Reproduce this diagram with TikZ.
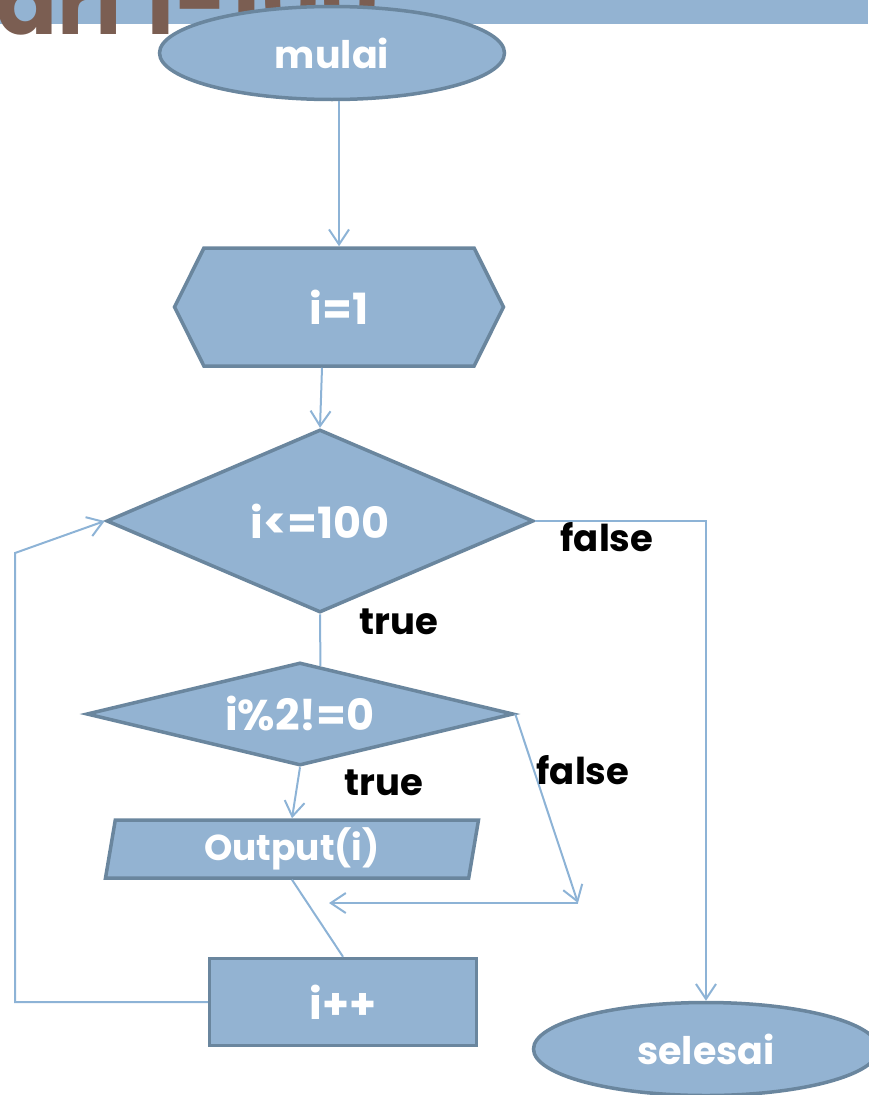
\documentclass[tikz,border=0pt]{standalone}
\usepackage{fontspec}
\setmainfont{Poppins}
\usetikzlibrary{shapes.geometric,shapes.symbols,arrows.meta}
\definecolor{boxfill}{HTML}{93B3D2}
\definecolor{boxline}{HTML}{6A869E}
\definecolor{flowline}{HTML}{8DB3D6}
\definecolor{titlebrown}{HTML}{7B5E52}

\begin{document}
\begin{tikzpicture}[x=1pt,y=-1pt]
  \tikzstyle{box}=[draw=boxline,fill=boxfill,line width=3.5pt,text=white,inner sep=0pt,font=\fontsize{38}{40}\selectfont\bfseries]
  \tikzstyle{bigtext}=[font=\fontsize{43}{45}\selectfont\bfseries]
  \tikzstyle{flow}=[draw=flowline,line width=2pt]
  \tikzstyle{arr}=[flow,-{Straight Barb[length=15pt,width=20pt]}]
  \tikzstyle{lbl}=[inner sep=0pt,font=\fontsize{37}{39}\selectfont\bfseries]
  \useasboundingbox (0,0) rectangle (868,1095);
  % header strip with the cut title
  \fill[boxfill] (0,0) rectangle (868,24);
  \begin{scope}
    \clip (0,0) rectangle (868,35);
    \node[anchor=base west,text=titlebrown,inner sep=0pt,font=\fontsize{90}{92}\selectfont\bfseries] (judul) at (-65,34) {dari 1-100};
  \end{scope}
  % blocks
  \node[box,ellipse,minimum width=345,minimum height=93] (mulai) at (332,53) {mulai};
  \node[box,bigtext,signal,signal to=west and east,signal pointer angle=127,minimum width=329,minimum height=118] (awal) at (339,307) {i=1};
  \node[box,bigtext,diamond,minimum width=427,minimum height=183] (cek) at (320,521) {i<=100};
  \node[box,bigtext,diamond,aspect=4,minimum width=427,minimum height=103] (ganjil) at (300,714) {i\%2!=0};
  \node[box,trapezium,trapezium left angle=77,trapezium right angle=103,trapezium stretches body,minimum width=373,minimum height=58,font=\fontsize{36}{38}\selectfont\bfseries] (cetak) at (292,849) {Output(i)};
  \node[box,bigtext,rectangle,minimum width=267,minimum height=87] (tambah) at (343,1002) {i++};
  \node[box,ellipse,minimum width=345,minimum height=93] (selesai) at (706,1049) {selesai};
  % flow lines
  \coordinate (gabung) at (578,903);
  \coordinate (balik) at (329,903);
  \coordinate (naik) at (15,553);
  \draw[arr] (mulai.south -| awal.north) -- (awal.north);
  \draw[arr] ([xshift=-17pt]awal.south) -- (cek.north);
  \draw[arr] (cek.east) -| (selesai.north);
  \draw[flow] (cek.south) -- (ganjil.67);
  \draw[arr] (ganjil.south) -- (cetak.north);
  \draw[arr] (ganjil.east) -- (gabung);
  \draw[arr] (gabung) -- (balik);
  \draw[flow] (cetak.south) -- (tambah.north);
  \draw[arr] (tambah.west) -| (naik) -- (cek.west);
  % labels
  \node[lbl] at (607,537) {false};
  \node[lbl] at (399,622) {true};
  \node[lbl] at (384,783) {true};
  \node[lbl] at (583,770) {false};
\end{tikzpicture}
\end{document}
